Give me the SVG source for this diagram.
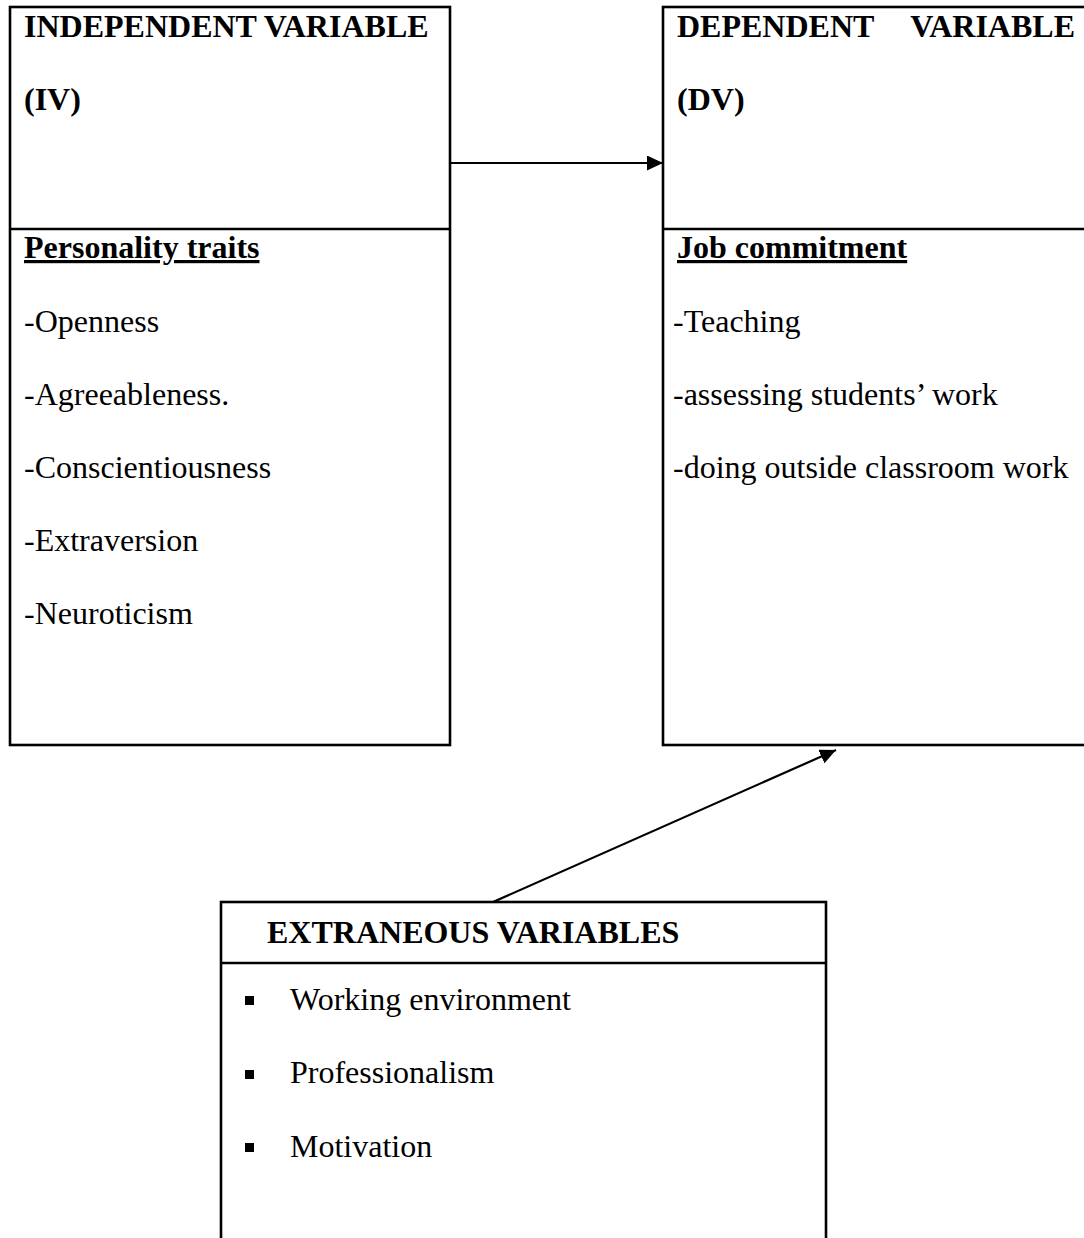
<svg xmlns="http://www.w3.org/2000/svg" width="1084" height="1238" viewBox="0 0 1084 1238">
  <style>
    .box { fill: #ffffff; stroke: #000000; stroke-width: 2.6; }
    .div { stroke: #000000; stroke-width: 2.6; }
    .hd { font-family: "Liberation Serif", "Times New Roman", serif; font-size: 32px; font-weight: bold; fill: #000000; }
    .ul { text-decoration: underline; }
    .tx { font-family: "Liberation Serif", "Times New Roman", serif; font-size: 32px; fill: #000000; }
    .conn { stroke: #000000; stroke-width: 2.2; fill: none; marker-end: url(#arrow); }
  </style>
  <defs>
    <marker id="arrow" markerUnits="userSpaceOnUse" markerWidth="16" markerHeight="15" refX="16" refY="7.5" orient="auto">
      <path d="M0,0 L16,7.5 L0,15 Z" fill="#000000"/>
    </marker>
  </defs>
  <rect x="0" y="0" width="1084" height="1238" fill="#ffffff"/>

  <g id="iv">
    <rect class="box" x="10" y="7" width="440" height="738"/>
    <line class="div" x1="10" y1="229" x2="450" y2="229"/>
    <text class="hd" x="24" y="37">INDEPENDENT VARIABLE</text>
    <text class="hd" x="24" y="110">(IV)</text>
    <text class="hd ul" x="24" y="258">Personality traits</text>
    <text class="tx" x="24" y="332">-Openness</text>
    <text class="tx" x="24" y="405">-Agreeableness.</text>
    <text class="tx" x="24" y="478">-Conscientiousness</text>
    <text class="tx" x="24" y="551">-Extraversion</text>
    <text class="tx" x="24" y="624">-Neuroticism</text>
  </g>

  <g id="dv">
    <rect class="box" x="663" y="7" width="430" height="738"/>
    <line class="div" x1="663" y1="229" x2="1093" y2="229"/>
    <text class="hd" x="677" y="37">DEPENDENT</text>
    <text class="hd" x="1075" y="37" text-anchor="end">VARIABLE</text>
    <text class="hd" x="677" y="110">(DV)</text>
    <text class="hd ul" x="677" y="258">Job commitment</text>
    <text class="tx" x="673" y="332">-Teaching</text>
    <text class="tx" x="673" y="405">-assessing students’ work</text>
    <text class="tx" x="673" y="478">-doing outside classroom work</text>
  </g>

  <g id="ev">
    <rect class="box" x="221" y="902" width="605" height="350"/>
    <line class="div" x1="221" y1="963" x2="826" y2="963"/>
    <text class="hd" x="267" y="943">EXTRANEOUS VARIABLES</text>
    <rect x="245" y="996" width="9" height="9" fill="#000000"/>
    <text class="tx" x="290" y="1010">Working environment</text>
    <rect x="245" y="1070" width="9" height="9" fill="#000000"/>
    <text class="tx" x="290" y="1083">Professionalism</text>
    <rect x="245" y="1143" width="9" height="9" fill="#000000"/>
    <text class="tx" x="290" y="1157">Motivation</text>
  </g>

  <g id="connectors">
    <line class="conn" x1="451" y1="163" x2="663" y2="163"/>
    <line class="conn" x1="493" y1="902" x2="836" y2="750"/>
  </g>
</svg>
